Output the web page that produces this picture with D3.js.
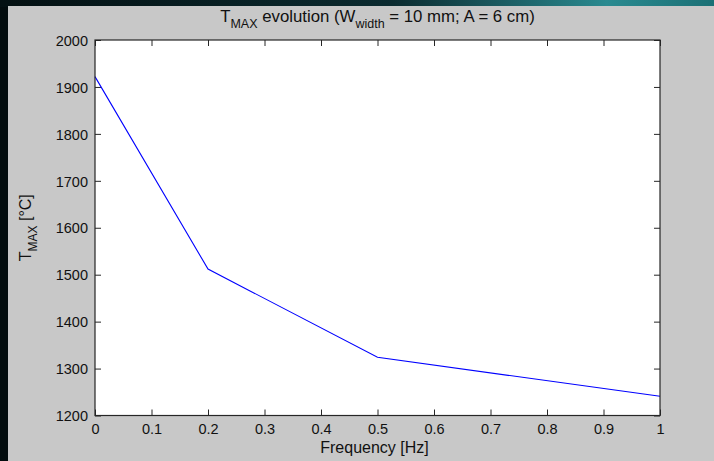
<!DOCTYPE html>
<html>
<head>
<meta charset="utf-8">
<script src="https://cdn.jsdelivr.net/npm/d3@7"></script>
<style>
  html, body { margin: 0; padding: 0; background: #030c0e; }
  svg { display: block; }
  text { font-family: "Liberation Sans", Arial, Helvetica, sans-serif; fill: #111; }
</style>
</head>
<body>
<svg id="chart" width="714" height="461"></svg>
<script>
// Maximum temperature versus excitation frequency
const frequency = [0, 0.2, 0.5, 1];
const tMax = [1922, 1512, 1324, 1241];
const xTicks = [0, 0.1, 0.2, 0.3, 0.4, 0.5, 0.6, 0.7, 0.8, 0.9, 1];
const yTicks = [1200, 1300, 1400, 1500, 1600, 1700, 1800, 1900, 2000];

const svg = d3.select("#chart");
const W = 714, H = 461;

// dark desktop backdrop with a teal glow along the top edge
const defs = svg.append("defs");
const glow = defs.append("linearGradient").attr("id", "glow").attr("x1", 0).attr("x2", 1);
glow.append("stop").attr("offset", "0%").attr("stop-color", "#041012");
glow.append("stop").attr("offset", "55%").attr("stop-color", "#0b2b30");
glow.append("stop").attr("offset", "85%").attr("stop-color", "#2a8a90");
glow.append("stop").attr("offset", "100%").attr("stop-color", "#1b7075");
svg.append("rect").attr("width", W).attr("height", H).attr("fill", "#030c0e");
svg.append("rect").attr("width", W).attr("height", 7).attr("fill", "url(#glow)");

// figure window
svg.append("rect").attr("x", 8).attr("y", 6).attr("width", W - 8).attr("height", H - 6)
  .attr("fill", "#c8c8c8");

const plot = { left: 95, right: 660, top: 40, bottom: 415.5 };

const x = d3.scaleLinear().domain([0, 1]).range([plot.left, plot.right]);
const y = d3.scaleLinear().domain([1200, 2000]).range([plot.bottom, plot.top]);

svg.append("rect")
  .attr("x", plot.left).attr("y", plot.top)
  .attr("width", plot.right - plot.left).attr("height", plot.bottom - plot.top)
  .attr("fill", "#ffffff");

const tickLen = 6;
const axisColor = "#262626";

// bottom axis with labels, top axis ticks only
const xBottom = svg.append("g").attr("transform", `translate(0,${plot.bottom})`)
  .call(d3.axisBottom(x).tickValues(xTicks).tickSize(-tickLen).tickPadding(7)
    .tickFormat(d => d === 0 || d === 1 ? d3.format("d")(d) : d3.format(".1f")(d)));
const xTop = svg.append("g").attr("transform", `translate(0,${plot.top})`)
  .call(d3.axisTop(x).tickValues(xTicks).tickSize(-tickLen).tickFormat(""));
const yLeft = svg.append("g").attr("transform", `translate(${plot.left},0)`)
  .call(d3.axisLeft(y).tickValues(yTicks).tickSize(-tickLen).tickPadding(7).tickFormat(d3.format("d")));
const yRight = svg.append("g").attr("transform", `translate(${plot.right},0)`)
  .call(d3.axisRight(y).tickValues(yTicks).tickSize(-tickLen).tickFormat(""));

[xBottom, xTop, yLeft, yRight].forEach(g => {
  g.select(".domain").remove();
  g.selectAll(".tick line").attr("stroke", axisColor).attr("stroke-width", 1);
  g.selectAll(".tick text").attr("fill", "#111").style("font-size", "14.5px")
    .style("font-family", "'Liberation Sans', Arial, sans-serif");
});
yLeft.selectAll(".tick text").attr("dy", "0.36em");
xBottom.selectAll(".tick text").attr("dy", "0.8em");

// data line
const line = d3.line().x((d, i) => x(frequency[i])).y(d => y(d));
svg.append("path").datum(tMax)
  .attr("d", line)
  .attr("fill", "none")
  .attr("stroke", "#0000ff")
  .attr("stroke-width", 1.1);

// plot box
svg.append("rect")
  .attr("x", plot.left).attr("y", plot.top)
  .attr("width", plot.right - plot.left).attr("height", plot.bottom - plot.top)
  .attr("fill", "none").attr("stroke", axisColor).attr("stroke-width", 1.2);

// title
const title = svg.append("text")
  .attr("x", (plot.left + plot.right) / 2).attr("y", 22)
  .attr("text-anchor", "middle").style("font-size", "16.8px");
title.append("tspan").text("T");
title.append("tspan").attr("dy", 6).style("font-size", "12.5px").text("MAX");
title.append("tspan").attr("dy", -6).text(" evolution (W");
title.append("tspan").attr("dy", 6).style("font-size", "12.5px").text("width");
title.append("tspan").attr("dy", -6).text(" = 10 mm; A = 6 cm)");

// x axis label
svg.append("text")
  .attr("x", (plot.left + plot.right) / 2 - 3).attr("y", 453)
  .attr("text-anchor", "middle").style("font-size", "16px")
  .text("Frequency [Hz]");

// y axis label
const yl = svg.append("text")
  .attr("transform", `translate(31,${(plot.top + plot.bottom) / 2}) rotate(-90)`)
  .attr("text-anchor", "middle").style("font-size", "16px");
yl.append("tspan").text("T");
yl.append("tspan").attr("dy", 6).style("font-size", "12px").text("MAX");
yl.append("tspan").attr("dy", -6).text(" [°C]");
</script>
</body>
</html>
